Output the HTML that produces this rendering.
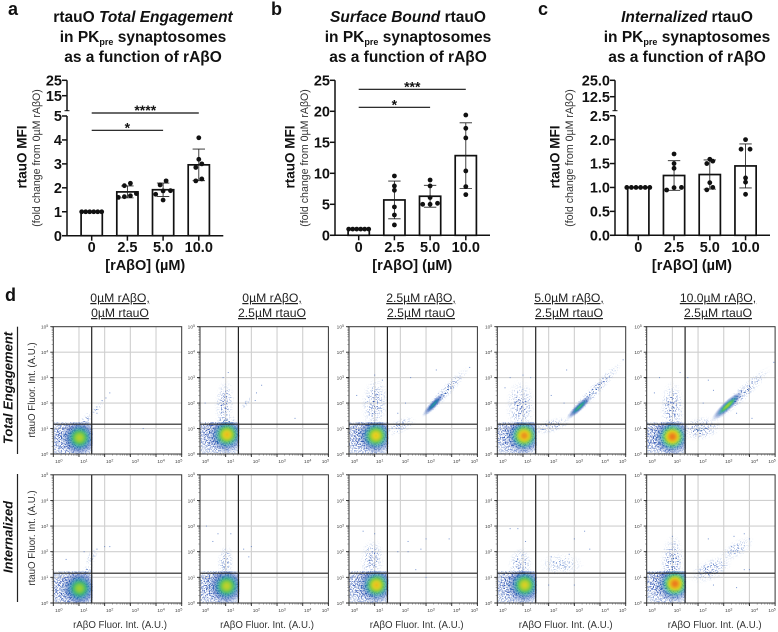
<!DOCTYPE html>
<html lang="en">
<head>
<meta charset="utf-8">
<title>rtauO engagement in PKpre synaptosomes</title>
<style>
html,body{margin:0;padding:0;background:#fff;}
svg{display:block;font-family:"Liberation Sans",sans-serif;filter:blur(0.3px);}
.title{font-size:15.5px;font-weight:bold;text-anchor:middle;fill:#111;}
.letter{font-size:18px;font-weight:bold;fill:#111;}
.cond{font-size:12.2px;text-anchor:middle;fill:#222;text-decoration:underline;}
.ft{font-size:9.7px;text-anchor:middle;fill:#333;}
.rowlab{font-size:13px;font-weight:bold;font-style:italic;text-anchor:middle;fill:#111;}
</style>
</head>
<body>
<svg id="fig" width="778" height="632" viewBox="0 0 778 632" xmlns="http://www.w3.org/2000/svg">
<defs>
<filter id="speckle" x="-5%" y="-5%" width="110%" height="110%" color-interpolation-filters="sRGB">
<feTurbulence type="fractalNoise" baseFrequency="0.75" numOctaves="2" seed="7" result="n"/>
<feColorMatrix in="n" type="matrix" values="0 0 0 0 0  0 0 0 0 0  0 0 0 0 0  8 0 0 0 -3.8" result="m"/>
<feComposite in="SourceGraphic" in2="m" operator="in"/>
</filter>
<filter id="speckleSparse" x="-5%" y="-5%" width="110%" height="110%" color-interpolation-filters="sRGB">
<feTurbulence type="fractalNoise" baseFrequency="0.75" numOctaves="2" seed="11" result="n"/>
<feColorMatrix in="n" type="matrix" values="0 0 0 0 0  0 0 0 0 0  0 0 0 0 0  9 0 0 0 -5.0" result="m"/>
<feComposite in="SourceGraphic" in2="m" operator="in"/>
</filter>
</defs>

<rect width="778" height="632" fill="#fff"/>

<text class="letter" x="8" y="15">a</text>
<text class="letter" x="271" y="15">b</text>
<text class="letter" x="538" y="15">c</text>
<text class="letter" x="5" y="301">d</text>

<g>
<text class="title" x="143" y="22">rtauO <tspan font-style="italic">Total Engagement</tspan></text>
<text class="title" x="143" y="42">in PK<tspan font-size="9px" dy="3">pre</tspan><tspan dy="-3"> synaptosomes</tspan></text>
<text class="title" x="143" y="62">as a function of rAβO</text>
</g>
<g>
<text class="title" x="408" y="22"><tspan font-style="italic">Surface Bound</tspan> rtauO</text>
<text class="title" x="408" y="42">in PK<tspan font-size="9px" dy="3">pre</tspan><tspan dy="-3"> synaptosomes</tspan></text>
<text class="title" x="408" y="62">as a function of rAβO</text>
</g>
<g>
<text class="title" x="687" y="22"><tspan font-style="italic">Internalized</tspan> rtauO</text>
<text class="title" x="687" y="42">in PK<tspan font-size="9px" dy="3">pre</tspan><tspan dy="-3"> synaptosomes</tspan></text>
<text class="title" x="687" y="62">as a function of rAβO</text>
</g>

<g><text class="cond" x="120" y="302">0µM rAβO,</text><text class="cond" x="120" y="317">0µM rtauO</text></g>
<g><text class="cond" x="272" y="302">0µM rAβO,</text><text class="cond" x="272" y="317">2.5µM rtauO</text></g>
<g><text class="cond" x="421" y="302">2.5µM rAβO,</text><text class="cond" x="421" y="317">2.5µM rtauO</text></g>
<g><text class="cond" x="569" y="302">5.0µM rAβO,</text><text class="cond" x="569" y="317">2.5µM rtauO</text></g>
<g><text class="cond" x="718" y="302">10.0µM rAβO,</text><text class="cond" x="718" y="317">2.5µM rtauO</text></g>

<text class="rowlab" transform="translate(12.5,388) rotate(-90)">Total Engagement</text>
<line x1="17.5" x2="17.5" y1="326.7" y2="454" stroke="#222" stroke-width="1.2"/>
<text class="rowlab" transform="translate(12.5,537) rotate(-90)">Internalized</text>
<line x1="17.5" x2="17.5" y1="474" y2="602" stroke="#222" stroke-width="1.2"/>

<text class="ft" transform="translate(35,390) rotate(-90)">rtauO Fluor. Int. (A.U.)</text>
<text class="ft" transform="translate(35,538) rotate(-90)">rtauO Fluor. Int. (A.U.)</text>
<text class="ft" x="120" y="628">rAβO Fluor. Int. (A.U.)</text>
<text class="ft" x="267" y="628">rAβO Fluor. Int. (A.U.)</text>
<text class="ft" x="416.7" y="628">rAβO Fluor. Int. (A.U.)</text>
<text class="ft" x="565.7" y="628">rAβO Fluor. Int. (A.U.)</text>
<text class="ft" x="714.7" y="628">rAβO Fluor. Int. (A.U.)</text>

<g id="bars"></g>
<g id="flow"></g>
</svg>

<script>
/* ---------- bar chart data ---------- */
const doseLabels = ['0', '2.5', '5.0', '10.0'];

const aMeans = [1, 1.83, 1.92, 2.96];
const aSDs = [0, 0.25, 0.28, 0.66];
const aReplicates = [
  [1, 1, 1, 1, 1, 1],
  [1.63, 2.09, 2.19, 1.76, 1.6, 1.67],
  [2.29, 1.88, 2.12, 1.87, 1.73, 1.49],
  [4.09, 3.19, 2.85, 3.0, 2.29, 2.37]
];
const aLowerTicks = [0, 1, 2, 3, 4, 5];
const aUpperTicks = [15, 25];
const aTickLabels = ['0', '1', '2', '3', '4', '5', '15', '25'];

const bMeans = [1, 5.7, 6.3, 12.85];
const bSDs = [0, 3.04, 1.77, 5.3];
const bReplicates = [
  [1, 1, 1, 1, 1, 1],
  [9.57, 7.96, 7.26, 4.57, 3.28, 1.67],
  [8.92, 7.96, 6.08, 5.0, 5.16, 5.0],
  [19.4, 17.26, 15.7, 10.38, 7.85, 6.56]
];
const bLowerTicks = [0, 5, 10, 15, 20, 25];
const bUpperTicks = [];
const bTickLabels = ['0', '5', '10', '15', '20', '25'];

const cMeans = [1.0, 1.25, 1.27, 1.45];
const cSDs = [0, 0.31, 0.305, 0.46];
const cReplicates = [
  [1, 1, 1, 1, 1, 1],
  [1.7, 1.5, 1.4, 0.947, 0.995, 1.0],
  [1.55, 1.59, 1.5, 1.1, 0.95, 1.0],
  [2.0, 1.8, 1.8, 1.2, 1.11, 0.857]
];
const cLowerTicks = [0, 0.5, 1, 1.5, 2, 2.5];
const cUpperTicks = [12.5, 25];
const cTickLabels = ['0.0', '0.5', '1.0', '1.5', '2.0', '2.5', '12.5', '25.0'];

/* ---------- flow cytometry data, in log10 decades ---------- */
const flowDecades = [0, 1, 2, 3, 4, 5];

/* main cluster per column: [log x, log y, peak density 0..1] */
const topCores = [[1.02, 0.64, 0.76], [1.05, 0.76, 0.88], [1.05, 0.72, 0.86], [1.05, 0.72, 0.96], [1.0, 0.68, 1.0]];
const bottomCores = [[1.02, 0.57, 0.72], [1.04, 0.66, 0.78], [1.07, 0.7, 0.88], [1.07, 0.7, 0.82], [1.1, 0.75, 1.0]];

/* secondary populations per column: [log x, log y, half length, half width, angle, peak density] */
const topTails = [
  [[1.25, 1.3, 0.45, 0.2, 55, 0.24], [1.7, 1.8, 0.4, 0.12, 50, 0.14]],
  [[0.95, 2.0, 0.95, 0.4, 85, 0.24], [1.0, 1.3, 0.3, 0.45, 90, 0.3], [1.8, 2.0, 0.35, 0.1, 50, 0.12]],
  [[1.0, 2.0, 1.05, 0.55, 85, 0.24], [3.75, 2.43, 1.4, 0.24, 47, 0.28], [3.3, 1.95, 0.65, 0.15, 47, 0.46], [2.0, 1.1, 0.7, 0.3, 25, 0.16]],
  [[0.9, 1.9, 1.05, 0.6, 90, 0.25], [3.75, 2.45, 1.7, 0.24, 46, 0.28], [3.2, 1.85, 0.7, 0.16, 44, 0.56], [2.1, 1.1, 0.8, 0.3, 15, 0.22]],
  [[1.0, 1.8, 1.1, 0.5, 90, 0.26], [3.7, 2.35, 1.6, 0.28, 43, 0.28], [3.15, 1.9, 0.85, 0.2, 43, 0.72], [2.1, 1.0, 0.85, 0.48, 10, 0.3]]
];
const bottomTails = [
  [[1.3, 1.2, 0.45, 0.2, 60, 0.18], [1.5, 1.8, 0.4, 0.2, 60, 0.08]],
  [[1.0, 1.6, 0.7, 0.35, 88, 0.2]],
  [[0.9, 1.7, 0.85, 0.5, 85, 0.22]],
  [[0.9, 1.5, 0.7, 0.5, 85, 0.2], [2.5, 1.5, 0.9, 0.45, 0, 0.1]],
  [[1.0, 1.6, 1.1, 0.5, 88, 0.28], [2.5, 1.3, 0.9, 0.45, 25, 0.22], [3.5, 2.1, 0.8, 0.35, 30, 0.12]]
];

/* isolated events per column: [log x, log y] */
const topSparse = [
  [[2.2, 2.4], [2.05, 2.2], [1.9, 2.1], [3.5, 1.0], [1.7, 1.6]],
  [[1.1, 3.2], [0.9, 3.0], [2.2, 2.4], [2.15, 2.1], [3.7, 1.4], [2.4, 2.7], [0.2, 2.0]],
  [[1.0, 3.1], [1.3, 2.9], [2.4, 3.0], [3.4, 3.3], [2.2, 2.0], [0.3, 2.3], [1.9, 1.6], [4.7, 3.4]],
  [[1.3, 3.0], [1.0, 3.1], [2.7, 3.3], [0.3, 2.6], [0.5, 3.0], [2.1, 2.3], [4.9, 3.7], [2.6, 2.0]],
  [[0.5, 3.0], [1.3, 3.2], [1.6, 3.0], [2.4, 2.9], [2.6, 2.5], [0.3, 2.4], [2.2, 2.0], [3.5, 1.6], [4.1, 1.4], [4.95, 3.6]]
];
const bottomSparse = [
  [[0.5, 1.7], [1.2, 2.0], [2.0, 2.2], [1.7, 2.1], [2.2, 2.2], [1.5, 1.7]],
  [[0.25, 3.0], [0.7, 2.7], [1.2, 2.7], [0.5, 2.4], [1.7, 2.1], [2.0, 2.2], [1.9, 1.8]],
  [[0.55, 2.8], [1.0, 2.7], [2.3, 2.4], [3.0, 2.5], [3.9, 2.5], [2.8, 2.1], [2.3, 2.0], [1.9, 2.0], [2.6, 1.3], [3.0, 1.0]],
  [[0.5, 2.9], [0.8, 2.9], [1.1, 2.4], [3.4, 2.8], [3.0, 2.5], [3.6, 2.1], [2.1, 1.8], [2.8, 1.9], [2.2, 1.6], [3.0, 0.7], [2.0, 0.7]],
  [[1.0, 2.6], [1.1, 2.3], [3.4, 2.6], [3.8, 2.7], [4.0, 2.5], [2.4, 2.5], [3.3, 2.2], [3.8, 1.3], [4.0, 1.3], [3.5, 0.6], [2.6, 0.7]]
];

/* ---------- helpers ---------- */
const NS = 'http://www.w3.org/2000/svg';
function make(parent, tag, attrs, text) {
  const e = document.createElementNS(NS, tag);
  for (const k in attrs) e.setAttribute(k, attrs[k]);
  if (text !== undefined) e.textContent = text;
  parent.appendChild(e);
  return e;
}

/* group nearby values into rows and centre each row on the bar, like a swarm */
function swarm(values, toY, tightSpacing) {
  const sorted = values.slice().sort((p, q) => p - q);
  const rows = [];
  sorted.forEach(v => {
    const row = rows[rows.length - 1];
    if (row && Math.abs(toY(row[0]) - toY(v)) < 4.2) row.push(v); else rows.push([v]);
  });
  const out = [];
  rows.forEach(row => {
    const same = row.every(v => v === row[0]) && row.length > 3;
    const gap = same ? tightSpacing : (row.length === 3 ? 7.4 : (row.length === 2 && row[1] - row[0] < 0.02 ? 9 : 6));
    row.forEach((v, i) => out.push({ v: v, dx: (i - (row.length - 1) / 2) * gap }));
  });
  return out;
}

/* ---------- bar panels ---------- */
function drawBarPanel(o) {
  const root = document.getElementById('bars');
  const g = make(root, 'g', {});
  
  

  const lowMax = o.lowerTicks[o.lowerTicks.length - 1];
  const yScale = v => v <= lowMax
    ? o.y0 + (o.yLowTop - o.y0) * v / lowMax
    : o.yUpperTop + (o.upperMax - v) * o.upperUnit;
  const xScale = i => o.firstCenter + i * o.step;

  /* bars */
  o.means.forEach((m, i) => {
    const bar = make(g, 'rect', { x: xScale(i) - 10.6, y: yScale(m), width: 21.2, height: o.y0 - yScale(m), fill: '#fff', stroke: '#111', 'stroke-width': 1.7 });
    
    
  });

  /* error bars */
  o.means.forEach((m, i) => {
    if (!o.sds[i]) return;
    const cx = xScale(i), hi = yScale(m + o.sds[i]), lo = yScale(m - o.sds[i]);
    const eb = make(g, 'path', { d: 'M' + cx + ' ' + hi + 'V' + lo + 'M' + (cx - 6.2) + ' ' + hi + 'H' + (cx + 6.2) + 'M' + (cx - 6.2) + ' ' + lo + 'H' + (cx + 6.2), fill: 'none', stroke: '#222', 'stroke-width': 0.85 });
    
    
  });

  /* replicates */
  o.replicates.forEach((vals, i) => {
    swarm(vals, yScale, o.tight).forEach(pt => {
      const dot = make(g, 'circle', { cx: xScale(i) + pt.dx, cy: yScale(pt.v), r: 2.4, fill: '#111' });
      
      
    });
  });

  /* axes */
  const yLowerAxis = make(g, 'line', { x1: o.x0, x2: o.x0, y1: o.y0 + 0.7, y2: o.yLowTop, stroke: '#111', 'stroke-width': 1.5 });
  
  

  const xAxis = make(g, 'line', { x1: o.x0 - 5, x2: o.xEnd, y1: o.y0, y2: o.y0, stroke: '#111', 'stroke-width': 1.5 });
  
  

  if (o.upperTicks.length) {
    const yUpperAxis = make(g, 'line', { x1: o.x0, x2: o.x0, y1: o.yBreak, y2: o.yUpperTop, stroke: '#111', 'stroke-width': 1.5 });
    
    
    const brk = make(g, 'line', { x1: o.x0 - 2.5, x2: o.x0 + 2.5, y1: o.yBreak, y2: o.yBreak, stroke: '#111', 'stroke-width': 1 });
    
    
  }

  o.lowerTicks.concat(o.upperTicks).forEach((t, i) => {
    const y = yScale(t);
    const tick = make(g, 'line', { x1: o.x0 - 5, x2: o.x0, y1: y, y2: y, stroke: '#111', 'stroke-width': 1.5 });
    
    
    const lab = make(g, 'text', { x: o.x0 - 5, y: y + 5.2, 'font-size': '14.5px', 'font-weight': 'bold', 'text-anchor': 'end', fill: '#111' }, o.tickLabels[i]);
    
    
  });

  doseLabels.forEach((d, i) => {
    const cx = xScale(i);
    const tick = make(g, 'line', { x1: cx, x2: cx, y1: o.y0, y2: o.y0 + 5, stroke: '#111', 'stroke-width': 1.5 });
    
    
    const lab = make(g, 'text', { x: cx, y: 252, 'font-size': '14.5px', 'font-weight': 'bold', 'text-anchor': 'middle', fill: '#111' }, d);
    
    
  });

  const xTitle = make(g, 'text', { x: (xScale(0) + xScale(3)) / 2, y: 270, 'font-size': '14.5px', 'font-weight': 'bold', 'text-anchor': 'middle', fill: '#111' }, '[rAβO] (µM)');
  
  

  const yTitle = make(g, 'text', { transform: 'translate(' + o.titleX + ',157) rotate(-90)', 'font-size': '13.5px', 'font-weight': 'bold', 'text-anchor': 'middle', fill: '#111' }, 'rtauO MFI');
  
  

  const ySub = make(g, 'text', { transform: 'translate(' + (o.titleX + 13.5) + ',158) rotate(-90)', 'font-size': '10.6px', 'text-anchor': 'middle', fill: '#333' }, '(fold change from 0µM rAβO)');
  
  

  /* significance brackets */
  o.sig.forEach(s => {
    const x1 = xScale(s[0]), x2 = xScale(s[1]), y = s[3];
    const line = make(g, 'line', { x1: x1, x2: x2, y1: y, y2: y, stroke: '#111', 'stroke-width': 1.2 });
    
    
    const star = make(g, 'text', { x: (x1 + x2) / 2, y: y + 2.2, 'font-size': '14px', 'font-weight': 'bold', 'text-anchor': 'middle', fill: '#111' }, s[2]);
    
    
  });
}

drawBarPanel({ id: 'a', x0: 67, xEnd: 223.3, y0: 235.7, yLowTop: 116, yUpperTop: 80.3, upperMax: 25, upperUnit: 1.54, yBreak: 110.7,
  firstCenter: 91.7, step: 35.7, titleX: 26.5, tight: 4, means: aMeans, sds: aSDs, replicates: aReplicates,
  lowerTicks: aLowerTicks, upperTicks: aUpperTicks, tickLabels: aTickLabels,
  sig: [[0, 3, '****', 113], [0, 2, '*', 130.3]] });
drawBarPanel({ id: 'b', x0: 335, xEnd: 490, y0: 235.3, yLowTop: 80.3, yUpperTop: 80.3, upperMax: 25, upperUnit: 6.2, yBreak: 80.3,
  firstCenter: 358.7, step: 35.7, titleX: 294.3, tight: 4, means: bMeans, sds: bSDs, replicates: bReplicates,
  lowerTicks: bLowerTicks, upperTicks: bUpperTicks, tickLabels: bTickLabels,
  sig: [[0, 3, '***', 89.3], [0, 2, '*', 107.3]] });
drawBarPanel({ id: 'c', x0: 615, xEnd: 770, y0: 235.3, yLowTop: 115.7, yUpperTop: 80.3, upperMax: 25, upperUnit: 1.312, yBreak: 110.7,
  firstCenter: 638.3, step: 35.75, titleX: 559.3, tight: 4.6, means: cMeans, sds: cSDs, replicates: cReplicates,
  lowerTicks: cLowerTicks, upperTicks: cUpperTicks, tickLabels: cTickLabels,
  sig: [] });

/* ---------- flow panels ---------- */
const heatStops = [[0, '#c4d4ec'], [0.1, '#6f90d2'], [0.24, '#3558b4'], [0.4, '#2380b0'], [0.55, '#3cb57c'], [0.7, '#8fce3c'], [0.84, '#e6d020'], [1, '#ec7a1c']];
function heatColor(t) {
  t = Math.max(0, Math.min(1, t));
  for (let i = 1; i < heatStops.length; i++) {
    if (t <= heatStops[i][0]) {
      const a = heatStops[i - 1], b = heatStops[i], f = (t - a[0]) / (b[0] - a[0]);
      const pa = parseInt(a[1].slice(1), 16), pb = parseInt(b[1].slice(1), 16);
      const ch = s => Math.round(((pa >> s) & 255) * (1 - f) + ((pb >> s) & 255) * f);
      return 'rgb(' + ch(16) + ',' + ch(8) + ',' + ch(0) + ')';
    }
  }
  return heatStops[heatStops.length - 1][1];
}
const svgDefs = document.querySelector('#fig defs');
let gradCount = 0;
function densityGradient(peak) {
  const id = 'density' + (gradCount++);
  const gr = make(svgDefs, 'radialGradient', { id: id });
  for (let i = 0; i <= 10; i++) {
    const r = i / 10;
    const dens = peak * Math.exp(-r * r * 2.4);
    const op = r > 0.3 ? (1 - r) / 0.7 : 1;
    make(gr, 'stop', { offset: r, 'stop-color': heatColor(dens), 'stop-opacity': op.toFixed(2) });
  }
  return 'url(#' + id + ')';
}

function drawFlowPanel(o) {
  const root = document.getElementById('flow');
  const g = make(root, 'g', {});
  
  

  const W = o.right - o.left, H = o.bottom - o.top;
  const xS = d => o.left + d * W / 5;
  const yS = d => o.bottom - d * H / 5;
  const rx = d => d * W / 5;
  const ry = d => d * H / 5;

  flowDecades.slice(1, 5).forEach(d => {
    const v = make(g, 'line', { x1: xS(d), x2: xS(d), y1: o.top, y2: o.bottom, stroke: '#cfcfcf', 'stroke-width': 1.1 });
    
    
    const h = make(g, 'line', { x1: o.left, x2: o.right, y1: yS(d), y2: yS(d), stroke: '#cfcfcf', 'stroke-width': 1.1 });
    
    
  });

  const gateX = o.left + 38.4, gateY = o.bottom - 29.8;

  const frameClip = make(svgDefs, 'clipPath', { id: 'fc' + o.id });
  make(frameClip, 'rect', { x: o.left, y: o.top, width: W, height: H });
  const quadClip = make(svgDefs, 'clipPath', { id: 'qc' + o.id });
  make(quadClip, 'rect', { x: o.left, y: gateY - 2, width: gateX - o.left + 1, height: o.bottom - gateY + 2 });

  const plot = make(g, 'g', { 'clip-path': 'url(#fc' + o.id + ')' });
  
  

  /* three density classes: sparse stipple, dense stipple, solid */
  const sparseLayer = make(plot, 'g', { filter: 'url(#speckleSparse)' });
  
  
  const tailLayer = make(plot, 'g', { filter: 'url(#speckle)' });
  
  
  const solidLayer = make(plot, 'g', {});
  
  

  o.tails.forEach(t => {
    const cx = xS(t[0]), cy = yS(t[1]);
    const layer = t[5] >= 0.45 ? solidLayer : (t[5] >= 0.33 ? tailLayer : sparseLayer);
    const e = make(layer, 'ellipse', { cx: cx, cy: cy, rx: rx(t[2]), ry: ry(t[3]), fill: densityGradient(t[5]), transform: 'rotate(' + (-t[4]) + ' ' + cx + ' ' + cy + ')' });
    
    
  });

  /* core population */
  const core = o.core;
  const hazeWrap = make(plot, 'g', { 'clip-path': 'url(#qc' + o.id + ')' });
  
  
  const haze = make(hazeWrap, 'g', { filter: 'url(#speckle)' });
  
  
  const hazeBlob = make(haze, 'ellipse', { cx: xS(core[0] - 0.3), cy: yS(core[1]), rx: rx(1.6), ry: ry(1.25), fill: densityGradient(0.3) });
  
  
  const blob = make(hazeWrap, 'ellipse', { cx: xS(core[0]), cy: yS(core[1]), rx: rx(0.74), ry: ry(0.74), fill: densityGradient(core[2]) });
  
  

  /* single events */
  o.sparse.forEach(p => {
    const s = make(plot, 'rect', { x: xS(p[0]) - 0.5, y: yS(p[1]) - 0.5, width: 1, height: 1, fill: '#4a70c0', opacity: 0.75 });
    
    
  });

  /* gates */
  const vg = make(g, 'line', { x1: gateX, x2: gateX, y1: o.top, y2: o.bottom, stroke: '#222', 'stroke-width': 1.2 });
  
  
  const hg = make(g, 'line', { x1: o.left, x2: o.right, y1: gateY, y2: gateY, stroke: '#222', 'stroke-width': 1.2 });
  
  

  /* frame */
  const frame = make(g, 'rect', { x: o.left, y: o.top, width: W, height: H, fill: 'none', stroke: '#333', 'stroke-width': 1 });
  
  

  /* ticks */
  let minor = '';
  let major = '';
  flowDecades.forEach(d => {
    major += 'M' + xS(d) + ' ' + o.bottom + 'v3M' + o.left + ' ' + yS(d) + 'h-3';
    if (d < 5) {
      for (let k = 2; k < 10; k++) {
        const m = d + Math.log10(k);
        minor += 'M' + xS(m) + ' ' + o.bottom + 'v1.6M' + o.left + ' ' + yS(m) + 'h-1.6';
      }
    }
  });
  const minorTicks = make(g, 'path', { d: minor, stroke: '#555', 'stroke-width': 0.5, fill: 'none' });
  
  
  const majorTicks = make(g, 'path', { d: major, stroke: '#222', 'stroke-width': 0.9, fill: 'none' });
  
  

  /* tick labels */
  flowDecades.forEach(d => {
    const lx = make(g, 'text', { x: xS(d) + (d === 0 ? 5.5 : (d === 5 ? -3 : 5)), y: o.bottom + 9, 'font-size': '4.8px', 'text-anchor': 'middle', fill: '#444' }, '10');
    
    
    make(lx, 'tspan', { dy: '-1.6', 'font-size': '3.6px' }, String(d));
    const ly = make(g, 'text', { x: o.left - 5, y: yS(d) + 2, 'font-size': '4.8px', 'text-anchor': 'end', fill: '#444' }, '10');
    
    
    make(ly, 'tspan', { dy: '-1.6', 'font-size': '3.6px' }, String(d));
  });
}

const panelLefts = [53.3, 200, 349, 497.3, 646.7];
panelLefts.forEach((left, i) => {
  drawFlowPanel({ id: 't' + i, left: left, right: left + 128.4, top: 326.7, bottom: 454, core: topCores[i], tails: topTails[i], sparse: topSparse[i] });
  drawFlowPanel({ id: 'b' + i, left: left, right: left + 128.4, top: 474.8, bottom: 603, core: bottomCores[i], tails: bottomTails[i], sparse: bottomSparse[i] });
});
</script>
</body>
</html>
